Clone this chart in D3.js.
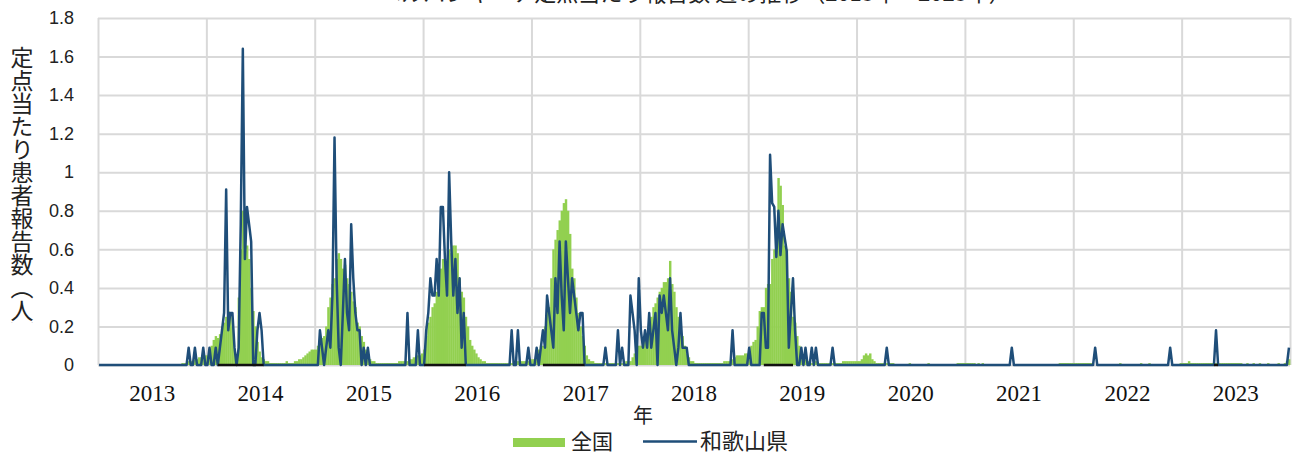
<!DOCTYPE html>
<html><head><meta charset="utf-8">
<script src="https://cdn.jsdelivr.net/npm/d3@7"></script>
<style>html,body{margin:0;padding:0;background:#fff;} svg{display:block;}</style>
</head><body><svg id="chart" width="1297" height="456"></svg>
<script>
// ---------- DATA ----------
const years = ["2013","2014","2015","2016","2017","2018","2019","2020","2021","2022","2023"];
const yTickValues = [0,0.2,0.4,0.6,0.8,1,1.2,1.4,1.6,1.8];
const yTickLabels = ["0","0.2","0.4","0.6","0.8","1","1.2","1.4","1.6","1.8"];
const seriesNames = ["全国","和歌山県"];

// national (全国) weekly values per year (52 weeks)
const nat2013 = [0,0,0,0,0,0,0,0,0,0, 0,0,0,0,0,0,0,0,0,0, 0,0,0,0,0,0,0,0,0,0, 0,0,0,0,0,0,0,0,0,0, 0.01,0.01,0.01,0.02,0.02,0.02,0.03,0.03,0.04,0.04, 0.05,0.05];
const nat2014 = [0.05,0.06,0.10,0.13,0.15,0.14,0.16,0.20,0.22,0.25, 0.28,0.27,0.20,0.08,0.05,0.35,0.60,0.80,0.72,0.62, 0.55,0.40,0.28,0.20,0.12,0.07,0.04,0.03,0.02,0.02, 0.01,0.01,0.01,0.01,0.01,0.01,0.01,0.01,0.02,0.01, 0.01,0.01,0.02,0.02,0.03,0.03,0.04,0.05,0.06,0.07, 0.08,0.08];
const nat2015 = [0.08,0.10,0.12,0.14,0.15,0.20,0.30,0.35,0.42,0.45, 0.55,0.58,0.55,0.50,0.52,0.45,0.42,0.38,0.33,0.30, 0.22,0.20,0.15,0.12,0.08,0.05,0.03,0.02,0.02,0.01, 0.01,0.01,0.01,0.01,0.01,0.01,0.01,0.01,0.01,0.01, 0.02,0.02,0.02,0.02,0.02,0.03,0.03,0.04,0.04,0.05, 0.05,0.06];
const nat2016 = [0.08,0.15,0.22,0.25,0.30,0.32,0.38,0.42,0.50,0.55, 0.55,0.52,0.60,0.58,0.62,0.62,0.58,0.45,0.38,0.35, 0.25,0.20,0.13,0.10,0.08,0.06,0.04,0.03,0.02,0.02, 0.01,0.01,0.01,0.01,0.01,0.01,0.01,0.01,0.01,0.01, 0.01,0.01,0.01,0.02,0.01,0.02,0.02,0.02,0.02,0.02, 0.02,0.03];
const nat2017 = [0.03,0.03,0.05,0.08,0.10,0.10,0.20,0.28,0.30,0.45, 0.60,0.65,0.70,0.75,0.80,0.84,0.86,0.80,0.68,0.50, 0.45,0.35,0.27,0.20,0.15,0.10,0.05,0.03,0.02,0.02, 0.01,0.01,0.01,0.01,0.01,0.01,0.01,0.01,0.01,0.01, 0.01,0.01,0.01,0.01,0.01,0.02,0.02,0.02,0.04,0.06, 0.08,0.10];
const nat2018 = [0.10,0.12,0.15,0.15,0.20,0.25,0.30,0.32,0.35,0.38, 0.40,0.43,0.43,0.45,0.54,0.42,0.38,0.30,0.25,0.20, 0.15,0.10,0.06,0.04,0.02,0.02,0.01,0.01,0.01,0.01, 0.01,0.01,0.01,0.01,0.01,0.01,0.01,0.01,0.01,0.01, 0.02,0.02,0.02,0.02,0.03,0.04,0.05,0.05,0.05,0.05, 0.06,0.06];
const nat2019 = [0.07,0.10,0.12,0.13,0.20,0.28,0.30,0.30,0.40,0.42, 0.42,0.55,0.60,0.65,0.97,0.93,0.83,0.62,0.60,0.45, 0.38,0.25,0.22,0.15,0.10,0.07,0.04,0.03,0.02,0.02, 0.01,0.01,0.02,0.01,0.01,0.01,0.01,0.01,0.01,0.01, 0.01,0.01,0.01,0.01,0.01,0.02,0.02,0.02,0.02,0.02, 0.02,0.02];
const nat2020 = [0.02,0.02,0.03,0.05,0.06,0.05,0.06,0.03,0.02,0.01, 0.01,0.01,0.01,0.01,0.01,0.01,0.01,0.01,0,0, 0,0,0,0,0,0.01,0,0,0,0, 0,0,0,0,0.01,0,0,0,0,0, 0,0,0,0,0,0,0,0,0.01,0.01, 0.01,0.01];
const nat2021 = [0.01,0.01,0.01,0.01,0.01,0,0.01,0,0.01,0, 0,0,0,0,0,0,0,0,0,0, 0,0,0,0,0,0,0,0,0,0, 0,0,0,0,0,0,0,0,0,0, 0,0,0,0,0,0.01,0.01,0.01,0.01,0.01, 0.01,0.01];
const nat2022 = [0.01,0.01,0.01,0.01,0.01,0.01,0.01,0.01,0.01,0, 0,0,0,0,0,0,0,0,0,0, 0,0,0.01,0,0,0,0,0,0,0, 0,0,0.01,0,0,0,0.01,0,0,0, 0,0,0,0,0,0,0,0,0,0, 0,0.01];
const nat2023 = [0.01,0.01,0.01,0.02,0.01,0.01,0.01,0.01,0.01,0.01, 0.01,0.01,0.01,0.01,0.01,0.01,0.01,0.01,0.01,0.01, 0.01,0.01,0.01,0.01,0.01,0.01,0.01,0.01,0.01,0, 0,0.01,0,0,0.01,0,0,0.01,0,0, 0,0.01,0,0,0,0,0.01,0,0,0.01, 0.02,0.03];

// Wakayama (和歌山県) weekly values per year (52 weeks)
const wak2013 = [0,0,0,0,0,0,0,0,0,0, 0,0,0,0,0,0,0,0,0,0, 0,0,0,0,0,0,0,0,0,0, 0,0,0,0,0,0,0,0,0,0, 0,0,0,0.09,0,0,0.09,0,0,0, 0.09,0];
const wak2014 = [0,0.09,0,0,0.09,0,0.09,0.18,0.27,0.91, 0.18,0.27,0.27,0.09,0,0.09,0.73,1.64,0.55,0.82, 0.73,0.64,0,0,0.18,0.27,0.18,0,0,0, 0,0,0,0,0,0,0,0,0,0, 0,0,0,0,0,0,0,0,0,0, 0,0];
const wak2015 = [0,0,0.18,0.09,0,0.09,0.18,0.09,0.36,1.18, 0.45,0.09,0,0.27,0.55,0.27,0.18,0.73,0.45,0.27, 0.18,0.18,0,0.09,0,0.09,0,0,0,0, 0,0,0,0,0,0,0,0,0,0, 0,0,0,0,0.27,0,0,0,0,0.18, 0,0];
const wak2016 = [0,0.18,0.27,0.45,0.36,0.36,0.55,0.36,0.82,0.82, 0.55,0.36,1.00,0.64,0.36,0.55,0.27,0.45,0.09,0.27, 0,0,0,0,0,0,0,0,0,0, 0,0,0,0,0,0,0,0,0,0, 0,0,0.18,0,0,0.18,0,0,0,0, 0.09,0];
const wak2017 = [0,0,0.09,0,0.09,0.18,0.09,0.36,0.27,0.18, 0.09,0.45,0.27,0.64,0.36,0.18,0.64,0.45,0.27,0.45, 0.36,0.27,0.18,0.27,0.27,0,0,0,0,0, 0,0,0,0,0,0.09,0,0,0,0, 0,0.18,0,0.09,0,0,0,0.36,0.27,0.18, 0,0.45];
const wak2018 = [0.18,0.09,0.18,0.09,0.27,0.09,0.18,0.27,0,0.36, 0.27,0.36,0.27,0.18,0.45,0.18,0.09,0,0.09,0.27, 0.09,0.09,0.09,0,0,0,0,0,0,0, 0,0,0,0,0,0,0,0,0,0, 0,0,0,0,0.18,0,0,0,0,0, 0,0];
const wak2019 = [0.09,0,0,0,0,0,0.27,0.27,0.09,0.09, 1.09,0.84,0.82,0.56,0.80,0.57,0.73,0.66,0.59,0.09, 0.27,0.45,0.18,0,0,0.09,0,0.09,0,0, 0.09,0,0.09,0,0,0,0,0,0,0, 0.09,0,0,0,0,0,0,0,0,0, 0,0];
const wak2020 = [0,0,0,0,0,0,0,0,0,0, 0,0,0,0,0.09,0,0,0,0,0, 0,0,0,0,0,0,0,0,0,0, 0,0,0,0,0,0,0,0,0,0, 0,0,0,0,0,0,0,0,0,0, 0,0];
const wak2021 = [0,0,0,0,0,0,0,0,0,0, 0,0,0,0,0,0,0,0,0,0, 0,0,0.09,0,0,0,0,0,0,0, 0,0,0,0,0,0,0,0,0,0, 0,0,0,0,0,0,0,0,0,0, 0,0];
const wak2022 = [0,0,0,0,0,0,0,0,0,0, 0.09,0,0,0,0,0,0,0,0,0, 0,0,0,0,0,0,0,0,0,0, 0,0,0,0,0,0,0,0,0,0, 0,0,0,0,0,0,0.09,0,0,0, 0,0];
const wak2023 = [0,0,0,0,0,0,0,0,0,0, 0,0,0,0,0,0,0.18,0,0,0, 0,0,0,0,0,0,0,0,0,0, 0,0,0,0,0,0,0,0,0,0, 0,0,0,0,0,0,0,0,0,0, 0,0.09];

// dark baseline segments seen under the Wakayama clusters (week index ranges)
const darkBaseRanges = [[57,79],[156,176],[213,233],[319,333],[535,537]];

const titleText = "ヘルパンギーナ定点当たり報告数 週の推移（2013年～2023年）";
const yTitle = "定点当たり患者報告数（人）";
const xTitle = "年";

// ---------- BUILD ----------
const natRows = [nat2013,nat2014,nat2015,nat2016,nat2017,nat2018,nat2019,nat2020,nat2021,nat2022,nat2023];
const wakRows = [wak2013,wak2014,wak2015,wak2016,wak2017,wak2018,wak2019,wak2020,wak2021,wak2022,wak2023];
natRows.forEach((r,i)=>{ if(r.length!==52) throw new Error("nat row "+years[i]+" length "+r.length); });
wakRows.forEach((r,i)=>{ if(r.length!==52) throw new Error("wak row "+years[i]+" length "+r.length); });
const national = [].concat(...natRows);
const wakayama = [].concat(...wakRows);
const N = national.length;

const svg = d3.select("#chart");
const L = 98, R = 1290, T = 18, B = 365;
const x = d3.scaleLinear().domain([0, N]).range([L, R]);
const y = d3.scaleLinear().domain([0, 1.8]).range([B, T]);
const band = d3.scaleBand().domain(years).range([L, R]);

const GRID = "#d9d9d9";

// horizontal gridlines + y labels
const yAxis = svg.append("g").attr("transform", `translate(${L},0)`)
  .call(d3.axisLeft(y).tickValues(yTickValues).tickFormat((d,i)=>yTickLabels[i]).tickSize(-(R-L)).tickPadding(24));
yAxis.select(".domain").remove();
yAxis.selectAll(".tick line").attr("stroke", GRID).attr("stroke-width", 2);
yAxis.selectAll(".tick text").attr("font-family","'Liberation Sans', Arial, sans-serif").attr("font-size",18).attr("fill","#222");

// vertical gridlines at year boundaries
const yearBounds = d3.range(0, N+1, 52);
const vAxis = svg.append("g").attr("transform", `translate(0,${B})`)
  .call(d3.axisBottom(x).tickValues(yearBounds).tickFormat("").tickSize(-(B-T)));
vAxis.select(".domain").remove();
vAxis.selectAll(".tick line").attr("stroke", GRID).attr("stroke-width", 2);

// national bars
const step = x(1) - x(0);
svg.append("g").selectAll("rect").data(national).join("rect")
  .attr("x", (d,i)=>x(i))
  .attr("width", step + 0.35)
  .attr("y", d=>y(d))
  .attr("height", d=>B - y(d))
  .attr("fill", "#92d050");

// Wakayama line
const line = d3.line().x((d,i)=>x(i+0.5)).y(d=>y(d));
svg.append("path").datum(wakayama)
  .attr("d", line).attr("fill","none")
  .attr("stroke","#1f4e79").attr("stroke-width",2.5).attr("stroke-linejoin","round");

// dark base segments
svg.append("g").selectAll("line").data(darkBaseRanges).join("line")
  .attr("x1", d=>x(d[0]+0.5)).attr("x2", d=>x(d[1]+0.5))
  .attr("y1", B).attr("y2", B)
  .attr("stroke", "#111").attr("stroke-width", 2.5);

// x labels (years)
const xAxis = svg.append("g").attr("transform", `translate(0,${B})`)
  .call(d3.axisBottom(band).tickSize(0).tickPadding(0));
xAxis.select(".domain").remove();
xAxis.selectAll(".tick text").attr("y", 36).attr("dy", 0)
  .attr("font-family","'Liberation Serif','Times New Roman',serif").attr("font-size",23).attr("fill","#111");

// axis titles
svg.append("text").attr("x", 643).attr("y", 423).attr("text-anchor","middle")
  .attr("font-family","'Noto Sans CJK JP',sans-serif").attr("font-size",20).attr("fill","#222").text(xTitle);

svg.append("clipPath").attr("id","ytclip").append("rect").attr("x",0).attr("y",30).attr("width",60).attr("height",293);
svg.append("text").attr("x", 22).attr("y", 46)
  .attr("clip-path","url(#ytclip)")
  .style("writing-mode","vertical-rl")
  .attr("font-family","'Noto Sans CJK JP',sans-serif").attr("font-size",23).attr("fill","#222").text(yTitle);

// title (mostly above the visible area, as in the reference)
svg.append("text").attr("x", 695).attr("y", 1).attr("text-anchor","middle")
  .attr("font-family","'Noto Sans CJK JP',sans-serif").attr("font-size",22).attr("fill","#222").text(titleText);

// legend
const lg = svg.append("g");
lg.append("rect").attr("x",513).attr("y",438).attr("width",52).attr("height",9).attr("fill","#92d050");
lg.append("text").attr("x",571).attr("y",449).attr("font-family","'Noto Sans CJK JP',sans-serif").attr("font-size",21).attr("fill","#222").text(seriesNames[0]);
lg.append("line").attr("x1",643).attr("x2",697).attr("y1",441.5).attr("y2",441.5).attr("stroke","#1f4e79").attr("stroke-width",2.5);
lg.append("text").attr("x",700).attr("y",449).attr("font-family","'Noto Sans CJK JP',sans-serif").attr("font-size",22).attr("fill","#222").text(seriesNames[1]);
</script></body></html>
